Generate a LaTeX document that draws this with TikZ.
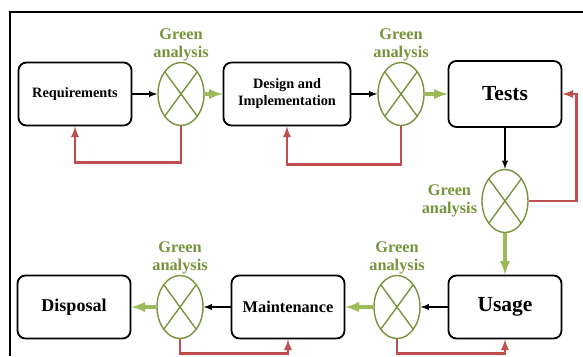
\documentclass[tikz,border=0pt]{standalone}
\usepackage{fontspec}
\setmainfont{Liberation Serif}
\usetikzlibrary{positioning}
\usetikzlibrary{arrows}
\usetikzlibrary{shapes.geometric}
\definecolor{olivegreen}{RGB}{119,147,60}
\definecolor{flowgreen}{RGB}{155,187,89}
\definecolor{backred}{RGB}{192,80,77}
\tikzset{
  stage/.style={draw, line width=1.8pt, rounded corners=8pt, minimum width=113pt, minimum height=63pt, align=center, font=\bfseries},
  check/.style={ellipse, draw=olivegreen, line width=1.4pt, minimum width=46pt, minimum height=63pt, inner sep=0pt,
    path picture={\draw[olivegreen, line width=1.4pt] (path picture bounding box.north west) -- (path picture bounding box.south east)
      (path picture bounding box.north east) -- (path picture bounding box.south west);}},
  note/.style={text=olivegreen, align=center, inner sep=1pt, font=\bfseries\fontsize{16.3}{18}\selectfont},
  pass/.style={-latex, line width=1.8pt},
  ok/.style={-latex, flowgreen, line width=3.6pt},
  back/.style={-latex, backred, line width=2.6pt}
}

\begin{document}
\begin{tikzpicture}[x=1pt, y=1pt, node distance=106pt]
		\useasboundingbox (0,0) rectangle (583,-356);
		\draw[line width=2pt] (10,-356) |- (583,-12);
		\node (req) [stage, font=\bfseries\fontsize{14.3}{16}\selectfont] at (75,-94) {Requirements};
		\node (e1) [check, right of = req] {};
		\node (design) [stage, minimum width=127pt, right of = e1, font=\bfseries\fontsize{14.3}{17}\selectfont] {Design and\\Implementation};
		\node (e2) [check, right of = design, xshift=8pt] {};
		\node (tests) [stage, minimum height=66pt, right of = e2, xshift=-2pt, font=\bfseries\fontsize{21.5}{24}\selectfont] {Tests};
		\node (e3) [check, below of = tests, yshift=-1pt] {};
		\node (usage) [stage, below of = e3, font=\bfseries\fontsize{21.5}{24}\selectfont] {Usage};
		\node (e4) [check, left of = usage, xshift=-2pt] {};
		\node (maint) [stage, left of = e4, xshift=-3pt, font=\bfseries\fontsize{16.3}{18}\selectfont] {Maintenance};
		\node (e5) [check, left of = maint, xshift=-2pt] {};
		\node (disp) [stage, left of = e5, font=\bfseries\fontsize{18}{20}\selectfont] {Disposal};
		% green analysis labels
		\node (g1) [note, above=0pt of e1] {Green\\analysis};
		\node (g2) [note, above=0pt of e2] {Green\\analysis};
		\node (g3) [note, left=3pt of e3] {Green\\analysis};
		\node (g4) [note, above=0pt of e4] {Green\\analysis};
		\node (g5) [note, above=0pt of e5] {Green\\analysis};
		% forward flow
		\draw[pass] (req) -- (e1);
		\draw[ok] (e1) -- (design);
		\draw[pass] (design) -- (e2);
		\draw[ok] (e2) -- (tests);
		\draw[pass] (tests) -- (e3);
		\draw[ok] (e3) -- (usage);
		\draw[pass] (usage) -- (e4);
		\draw[ok] (e4) -- (maint);
		\draw[pass] (maint) -- (e5);
		\draw[ok] (e5) -- (disp);
		% feedback
		\draw[back] (e1.south) -- ++(0,-36) -| (req);
		\draw[back] (e2.south) -- ++(0,-38) -| (design);
		\draw[back] (e3.east) -- ++(48,0) |- (tests);
		\draw[back] (e4.south) -- ++(0,-14) -| (usage);
		\draw[back] (e5.south) -- ++(0,-14) -| (maint);
		\end{tikzpicture}
\end{document}
